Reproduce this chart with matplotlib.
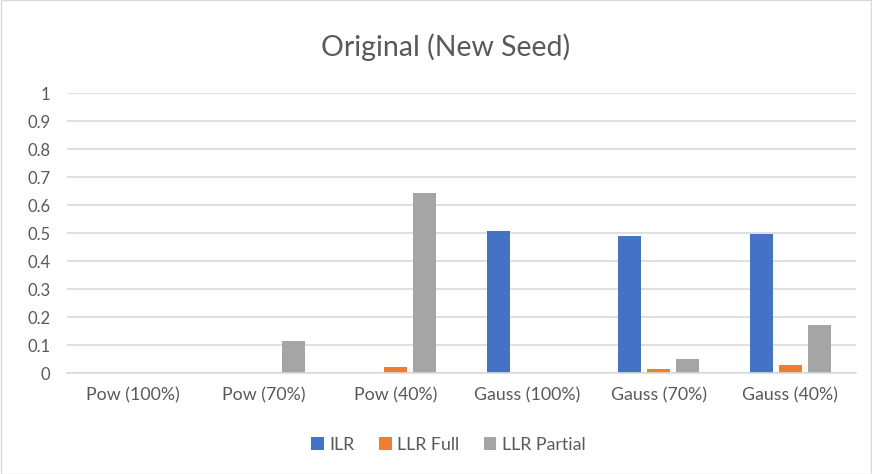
import matplotlib.pyplot as plt
import numpy as np
from matplotlib.patches import Rectangle

categories = ["Pow (100%)", "Pow (70%)", "Pow (40%)", "Gauss (100%)", "Gauss (70%)", "Gauss (40%)"]
ilr = [0, 0, 0, 0.508, 0.490, 0.499]
llr_full = [0, 0, 0.021, 0, 0.014, 0.030]
llr_partial = [0, 0.117, 0.644, 0, 0.051, 0.172]
yticks = [0, 0.1, 0.2, 0.3, 0.4, 0.5, 0.6, 0.7, 0.8, 0.9, 1]

COLORS = {"ILR": "#4472c4", "LLR Full": "#ed7d31", "LLR Partial": "#a5a5a5"}
TEXT = "#595959"

plt.rcParams["font.family"] = ["Lato", "DejaVu Sans"]

fig = plt.figure(figsize=(8.72, 4.74), dpi=100)
ax = fig.add_axes([67 / 872, 0.2124, 789 / 872, 0.5907])

x = np.arange(len(categories))
width = 0.175
step = 0.22
series = [("ILR", ilr), ("LLR Full", llr_full), ("LLR Partial", llr_partial)]
for i, (name, vals) in enumerate(series):
    ax.bar(x + (i - 1) * step, vals, width=width, color=COLORS[name], label=name, zorder=3)

ax.set_xlim(-0.5, len(categories) - 0.5)
ax.set_ylim(0, 1)
ax.set_yticks(yticks)
ax.set_yticklabels([f"{t:g}" for t in yticks])
ax.set_xticks(x)
ax.set_xticklabels(categories, fontsize=12.8)
ax.tick_params(axis="both", length=0, colors=TEXT)
ax.tick_params(axis="y", labelsize=12, pad=12)
ax.tick_params(axis="x", pad=10)
ax.yaxis.grid(True, color="#d9d9d9", linewidth=1.2, zorder=0)
for s in ["top", "right", "left"]:
    ax.spines[s].set_visible(False)
ax.spines["bottom"].set_color("#d9d9d9")
ax.spines["bottom"].set_linewidth(1.2)
ax.spines["bottom"].set_zorder(4)

fig.text(0.511, 0.9, "Original (New Seed)", ha="center", va="center", fontsize=20.5, color=TEXT)

fig.legend(loc="center", bbox_to_anchor=(0.514, 0.062), ncol=3, frameon=False,
           fontsize=12.8, labelcolor=TEXT, handlelength=0.7, handleheight=0.7,
           handletextpad=0.3, columnspacing=1.4)

# light chart-area border
fig.patches.append(Rectangle((0.001, 0.001), 0.998, 0.998, transform=fig.transFigure,
                             fill=False, edgecolor="#d9d9d9", linewidth=1))

fig.savefig("out.png", dpi=100)
